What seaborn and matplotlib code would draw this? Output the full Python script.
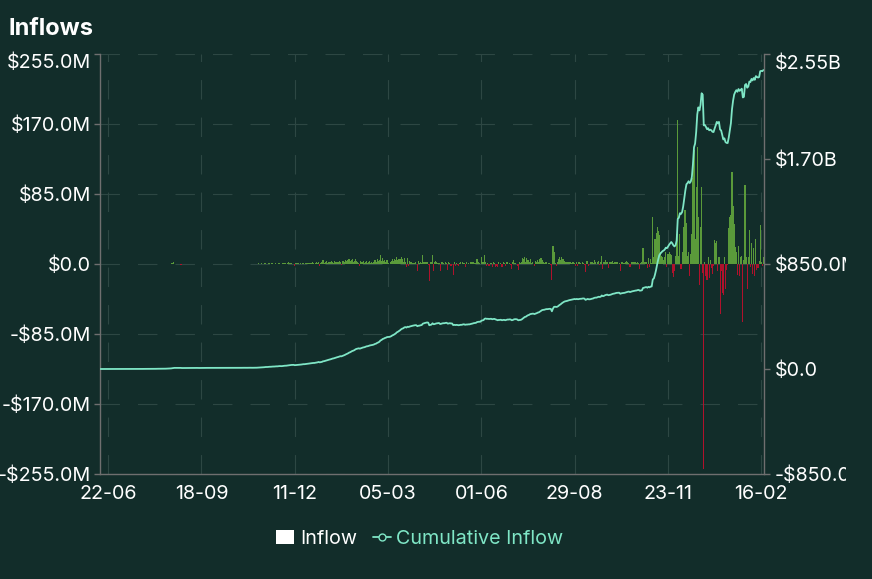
import matplotlib.pyplot as plt
import seaborn as sns
import numpy as np
import pandas as pd
from matplotlib.lines import Line2D
from matplotlib.patches import Patch
from matplotlib.transforms import Bbox, TransformedBbox

BG = "#122d2a"
GREEN = "#5a9a3a"
RED = "#b0122c"
AQUA = "#7fe6c6"
GRID = "#2d4743"
SPINE = "#6f6f6f"

# daily net inflow, $M
inflow_m = [
    0, 0, 0, 0, 0, 0, 0, 0, 0, 0, 0, 0, 0, 0, 0, 0,
    0, 0, 0.1, 0, 0, 0, 0.2, 0, 0, 0, 0, 0.1, 0, 0, 0, 0,
    0, 0, 0.2, 0, 0.1, 0, 0, 0, 0.3, 0, 0, 0, 0.2, 0, 0, 0,
    0, 0.3, 0, 0, 0.5, 0, 0, 0.2, 0, 0, 0.4, 0, 0, 0.3, 0, 0.5,
    0.5, 1.0, 1.5, 2, 0.6, 0, 0.3, 0, 0.4, 0, -0.8, -1, 0, 0.3, 0, 0.2,
    0, 0.2, 0, -0.3, 0, 0.3, 0, 0, 0.2, 0, -0.5, 0, 0.2, 0, 0, 0.3,
    0, 0, 0.2, 0, -0.4, 0, 0.3, 0, 0, 0.2, 0, -0.3, 0, 0, 0.2, 0,
    0.3, 0, 0, -0.5, 0, 0.2, 0, 0.3, 0, 0, -0.4, 0, 0.2, 0, 0.3, 0,
    0, 0.2, 0, 0.3, 0, -0.3, 0, 0.2, 0.4, 0, 0, -0.6, 0.3, 0, 0.2, 0, 0.4,
    0.5, 0.8, 0, 1.2, 0.6, 0, 0.9, 1.5, 0, 0.4, 1, 0.8, 0, 1.2, 0.5, 0,
    1, 0.6, 0, 1.4, 0.8, -0.6, 0, 1.2, 1.5, 0.9, 0, 1.3, 2, 0.7, 1,
    1.2, 0.5, 0, -2.5, 0.8, 1.5, 1, 0, 1.4, 0.6, 1.8, 1, 0, 1.2, 0.7, 1.5, 0.9,
    1.5, 0.8, 2, 1.2, 0, 1.6, 2.5, 1, 3, -3, 1.4, 2.2, 4.5, 1.2, 2.8, 3.5, 1.5,
    2.5, 3, 2, 3.5, 2.8, 1.5, 3.2, 2.6, 3, 2.2, 3.5, 2.8, -1,
    3.5, 4.2, 2.8, 5, 3.6, 4.5, 6, 3.2, 4.8, 5.5, 3, 4, 6.5, 3.8,
    2.5, 1.8, -2.5, 3.2, 2.6, 3.8, 1.5, 2.9, 4.2, 1.2, 2.4, 3.6, 1.8, 2.2, 1.3,
    3, 4.5, 2.5, 6, 3.8, 5.2, 10.5, 4, 7.5, 3.2, 5, 2.8, 4.5, 1.5, 0, 2.5,
    4, 6.5, 3.5, 6, 5.2, 9, 4.8, 6, 6, 8, 5.5, 3, 7.2, 2.5, -3.5, 6.8, -2.5, 4,
    2.5, 3, 1.5, 1.5, 2, 0, -8, 3.5, 1.2, 3, 1.5, 11, 3, 3, 2, 2, -1.5,
    -21, 3, 2, 11, -8, 2, 3.5, 2, 1, 1.5, -8,
    2, 3, 1.5, 0, 2.5, 1, -7, 2, 1.5, -2, 0, -13, 2, -2, 1.5, -1,
    -2, 1.5, 2, 0, 3, 1.2, -4, 2, 0, 1.5, 0, 2.8,
    2, 2, 3, 1, 1.5, 6, 2, 1, 0, 8, 3, 2, 11, 2, -3, 1, -2, 1,
    1, -4, 2, 1, -4, -3, -4, 2.5, 0, 1.5, -4, 2, 1, -3, 2.5, 3, 0, 1.5, -1, -6,
    2, 5, 1.5, 0, -2, -7, 2, 1,
    3, 7, 6, 8, 2, 7, 5, 3, 6, 1.5, 2, 0, -3, 4, 3, 5, 2, 6, 7, 5,
    2, 1, 3, 2, 0, 1, 1.5, -1, -19, 22,
    14, 1, -2, 2,
    6, 8, 5, 8, 6, 6, 4, 2, 2, 3, 3, 2, 1.5, 3, 2, 1, -2, 2.5,
    -2.5, 2, 1.5, 0, 2, 1, -1.5, -10, 3.5, 4, -3, 0,
    2, 3, 1.5, 5, 2, 0, 3, 4, -1.5,
    2, 10, -6, 3, 5, 3, 2, -5, 2, 2, 3, 4, 1.5, 2, 3, 2, 0, 1.5, -9, 3,
    2, 1, 1.5, 3, 3.5,
    2, 1.5, -4, 3, 3, 2, 2, 2, 1, 3, 1.5, -6, 1, 2, 19,
    2, 3, 2, -5, 7, -4, 6, 1, 57,
    8, 30, 38, 45, 40, 35, 14, 10,
    9, 5, 8, 15, -4, 12, 15, 12, 11, -11, -16, -9,
    10, 37, 175, 10, 37, -6, 15, 45,
    65, 65, 50, 10,
    15, -15, 12, 36, 104, 138, 30, 94, 142,
    57, -25, 45, 94, -11,
    -249, 3,
    -15, -19, 8, -17, 5, -5, -12, -2,
    29, 25, 28, -9,
    9, -61, -8, -35, -38, 9, -30, -7, -1,
    44, 57, 60, 112, 70, 49, 21,
    15, -13, 22, -15, 8, 10, -71,
    5, 96, 8, -30, 9, 41, -4,
    25, -12, 19, -14, 30, -7,
    -5, 4, 47, 3, -2, 9,
]

x_labels = ["22-06", "18-09", "11-12", "05-03", "01-06", "29-08", "23-11", "16-02"]
x_first, x_step = 7, 86
left_ticks = [-255, -170, -85, 0, 85, 170, 255]
left_labels = ["-$255.0M", "-$170.0M", "-$85.0M", "$0.0", "$85.0M", "$170.0M", "$255.0M"]
right_ticks = [-850, 0, 850, 1700, 2550]
right_labels = ["-$850.0M", "$0.0", "$850.0M", "$1.70B", "$2.55B"]

sns.set_style("dark", {"axes.facecolor": BG, "figure.facecolor": BG})
plt.rcParams["font.family"] = ["Inter", "DejaVu Sans"]
plt.rcParams["lines.scale_dashes"] = False

df = pd.DataFrame({"day": np.arange(len(inflow_m)), "inflow": inflow_m})
df["cumulative"] = df["inflow"].cumsum()
n = len(df)

fig = plt.figure(figsize=(8.72, 5.79), dpi=100, facecolor=BG)
ax = fig.add_axes([100 / 872, 105 / 579, 664 / 872, 420 / 579])
ax.set_facecolor(BG)

colors = np.where(df["inflow"] >= 0, GREEN, RED)
ax.bar(df["day"], df["inflow"], width=1.0, color=colors, linewidth=0, antialiased=False)

ax.set_xlim(-0.5, n - 0.5)
ax.set_ylim(-255, 255)
ax.set_xticks([x_first + x_step * k for k in range(len(x_labels))], x_labels)
ax.set_yticks(left_ticks, left_labels)
ax.grid(True, color=GRID, linestyle=(0, (14, 13)), linewidth=0.8)
ax.set_axisbelow(True)
ax.tick_params(colors=SPINE, labelcolor="white", labelsize=14.2, length=4.5, width=1, pad=2)
for side in ["top", "right"]:
    ax.spines[side].set_visible(False)
for side in ["left", "bottom"]:
    ax.spines[side].set_color(SPINE)
    ax.spines[side].set_linewidth(1)
ax.tick_params(axis="x", pad=3.5)
ax.yaxis.get_major_ticks()[-1].label1.set_va("top")

ax2 = ax.twinx()
sns.lineplot(data=df, x="day", y="cumulative", color=AQUA, linewidth=1.3, ax=ax2)
ax2.set_xlim(-0.5, n - 0.5)
ax2.set_ylim(-850, 2550)
ax2.set_yticks(right_ticks, right_labels)
ax2.set_ylabel("")
ax2.grid(False)
ax2.tick_params(colors=SPINE, labelcolor="white", labelsize=14.2, length=4.5, width=1, pad=3)
for side in ["top", "left", "bottom"]:
    ax2.spines[side].set_visible(False)
ax2.spines["right"].set_color(SPINE)
ax2.spines["right"].set_linewidth(1)
clip = TransformedBbox(Bbox.from_extents(0, 0, 846 / 872, 1), fig.transFigure)
for t in ax2.yaxis.get_major_ticks():
    t.label2.set_clip_box(clip)
    t.label2.set_clip_on(True)
ax2.yaxis.get_major_ticks()[-1].label2.set_va("top")

fig.text(8 / 872, 1 - 29 / 579, "Inflows", fontsize=17, fontweight="bold",
         color="white", ha="left", va="center")

handles = [
    Patch(facecolor="white", edgecolor="none"),
    Line2D([], [], color=AQUA, linewidth=1.3, marker="o", markersize=5,
           markerfacecolor=BG, markeredgecolor=AQUA),
]
fig.legend(handles, ["Inflow", "Cumulative Inflow"], loc="center",
           bbox_to_anchor=(420 / 872, 1 - 539 / 579), ncol=2, frameon=False,
           fontsize=14.2, labelcolor=["white", AQUA], handlelength=0.9,
           handletextpad=0.3, columnspacing=0.8)

fig.savefig("out.png", dpi=100, facecolor=BG)
